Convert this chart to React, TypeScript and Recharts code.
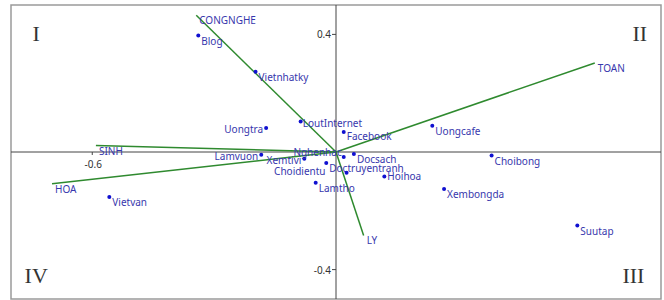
import {
  ReferenceArea,
  ReferenceDot,
  ReferenceLine,
  Scatter,
  ScatterChart,
  XAxis,
  YAxis,
} from "recharts";

// Row points (blue dots)
const pointNames = [
  "Blog", "Vietnhatky", "LoutInternet", "Uongtra", "Facebook", "Uongcafe",
  "Lamvuon", "Xemtivi", "Nghenhac", "Doctruyentranh", "Choidientu", "Docsach",
  "Hoihoa", "Lamtho", "Choibong", "Xembongda", "Suutap", "Vietvan",
];
const pointX = [
  -0.339, -0.198, -0.087, -0.172, 0.019, 0.237,
  -0.184, -0.078, 0.019, -0.024, 0.026, 0.044,
  0.119, -0.05, 0.383, 0.266, 0.594, -0.558,
];
const pointY = [
  0.396, 0.273, 0.104, 0.082, 0.068, 0.089,
  -0.009, -0.023, -0.017, -0.037, -0.071, -0.007,
  -0.083, -0.105, -0.012, -0.126, -0.25, -0.153,
];

// Column vectors (green arrows from the origin)
const vectorNames = ["CONGNGHE", "TOAN", "SINH", "HOA", "LY"];
const vectorX = [-0.344, 0.637, -0.591, -0.699, 0.068];
const vectorY = [0.465, 0.303, 0.022, -0.108, -0.284];

const xTicks = [-0.6];
const yTicks = [0.4, -0.4];
const quadrants = ["I", "II", "III", "IV"];

const points = pointNames.map((name, i) => ({ name, x: pointX[i], y: pointY[i] }));
const vectors = vectorNames.map((name, i) => ({ name, x: vectorX[i], y: vectorY[i] }));

const LABEL_COLOR = "#3737ad";
const LINE_COLOR = "#2f8a2f";
const FONT = "'Noto Sans', sans-serif";

// label placement relative to the dot: [dx, dy, anchor]
const LABEL_POS: Record<string, [number, number, "start" | "end"]> = {
  Uongtra: [-3, 1, "end"],
  Lamvuon: [-3, 1, "end"],
  Xemtivi: [-3, 1, "end"],
  Nghenhac: [-2, -5, "end"],
  Choidientu: [-21, -2, "end"],
  LoutInternet: [2, 2, "start"],
  Hoihoa: [3, 0, "start"],
  Facebook: [3, 4, "start"],
};

function PointShape(props: any) {
  const { cx, cy, payload } = props;
  const [dx, dy, anchor] = LABEL_POS[payload.name] ?? [3, 5, "start"];
  return (
    <g>
      <circle cx={cx} cy={cy} r={2} fill="#1010d0" />
      <text x={cx + dx} y={cy + dy} textAnchor={anchor} dominantBaseline="central"
        fontSize={10} fontFamily={FONT} fill={LABEL_COLOR}>
        {payload.name}
      </text>
    </g>
  );
}

function VectorLabel(props: any) {
  const { cx, cy, payload } = props;
  return (
    <text x={cx + 3} y={cy + 5} dominantBaseline="central" fontSize={10}
      fontFamily={FONT} fill={LABEL_COLOR}>
      {payload.name}
    </text>
  );
}

export default function App() {
  return (
    <div style={{ position: "absolute", left: 0, top: 0, background: "#fff" }}>
      <ScatterChart width={664} height={300} margin={{ top: 5, right: 3, bottom: 1, left: 11 }}>
        <XAxis type="number" dataKey="x" domain={[-0.8, 0.8]} hide allowDataOverflow />
        <YAxis type="number" dataKey="y" domain={[-0.5, 0.5]} hide allowDataOverflow />
        <ReferenceArea x1={-0.8} x2={0.8} y1={-0.5} y2={0.5} fill="none" stroke="#9a9a9a" strokeWidth={1.5} />
        <ReferenceLine x={0} stroke="#444" strokeWidth={1} />
        <ReferenceLine y={0} stroke="#444" strokeWidth={1} />
        {yTicks.map((t) => (
          <ReferenceDot key={`y${t}`} x={0} y={t} r={0}
            shape={(p: any) => (
              <g>
                <line x1={p.cx - 4} x2={p.cx} y1={p.cy} y2={p.cy} stroke="#444" />
                <text x={p.cx - 5} y={p.cy} textAnchor="end" dominantBaseline="central"
                  fontSize={10} fontFamily={FONT} fill="#333">{t}</text>
              </g>
            )} />
        ))}
        {xTicks.map((t) => (
          <ReferenceDot key={`x${t}`} x={t} y={0} r={0}
            shape={(p: any) => (
              <g>
                <line x1={p.cx} x2={p.cx} y1={p.cy} y2={p.cy + 3} stroke="#444" />
                <text x={p.cx + 1} y={p.cy + 12} textAnchor="middle" dominantBaseline="central"
                  fontSize={10} fontFamily={FONT} fill="#333">{t}</text>
              </g>
            )} />
        ))}
        {quadrants.map((q, i) => (
          <ReferenceDot key={q} x={i === 0 || i === 3 ? -0.738 : i === 1 ? 0.748 : 0.732}
            y={i < 2 ? 0.404 : -0.418} r={0}
            shape={(p: any) => (
              <text x={p.cx} y={p.cy + 8} textAnchor="middle" fontSize={22}
                fontFamily="'Liberation Serif', serif" fill="#333">{q}</text>
            )} />
        ))}
        {vectors.map((v) => (
          <ReferenceLine key={v.name} segment={[{ x: 0, y: 0 }, { x: v.x, y: v.y }]}
            stroke={LINE_COLOR} strokeWidth={1.5} />
        ))}
        <Scatter data={vectors} shape={VectorLabel} isAnimationActive={false} />
        <Scatter data={points} shape={PointShape} isAnimationActive={false} />
      </ScatterChart>
    </div>
  );
}
